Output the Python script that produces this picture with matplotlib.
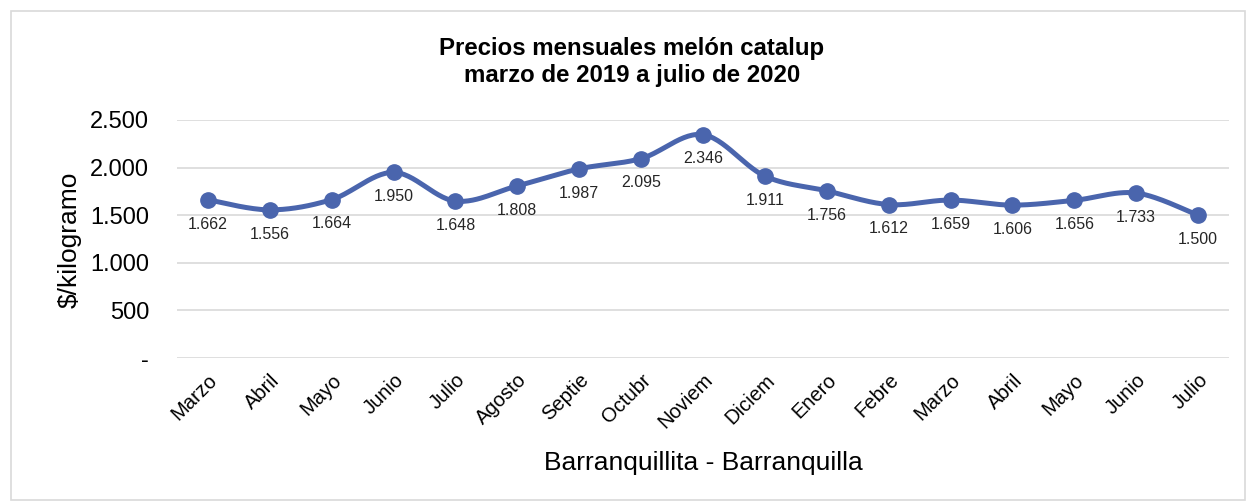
import numpy as np
import matplotlib
matplotlib.use("Agg")
import matplotlib.pyplot as plt
from matplotlib.patches import Rectangle

plt.rcParams['font.family'] = ['Liberation Sans', 'DejaVu Sans']

months = ["Marzo", "Abril", "Mayo", "Junio", "Julio", "Agosto", "Septie", "Octubr",
          "Noviem", "Diciem", "Enero", "Febre", "Marzo", "Abril", "Mayo", "Junio", "Julio"]
prices = [1662, 1556, 1664, 1950, 1648, 1808, 1987, 2095, 2346, 1911, 1756,
          1612, 1659, 1606, 1656, 1733, 1500]
yticks = [0, 500, 1000, 1500, 2000, 2500]
ytick_labels = ["-", "500", "1.000", "1.500", "2.000", "2.500"]
title = "Precios mensuales melón catalup\nmarzo de 2019 a julio de 2020"
xlabel = "Barranquillita - Barranquilla"
ylabel = "$/kilogramo"

color = "#4a65ad"

W, H = 1251, 504
fig = plt.figure(figsize=(W / 100, H / 100), dpi=100)
fig.patches.append(Rectangle((11 / W, 4 / H), 1234 / W, 489 / H, transform=fig.transFigure,
                             fill=False, edgecolor="#d9d9d9", linewidth=1.2))

ax = fig.add_axes([177 / W, 1 - 358 / H, (1229 - 177) / W, (358 - 120) / H])

x = np.arange(len(prices))
y = np.array(prices, dtype=float)

# smooth curve (cubic Bezier, Catmull-Rom style) through the points
xs, ys = [], []
n = len(x)
t = np.linspace(0, 1, 30)
for i in range(n - 1):
    p0 = np.array([x[i], y[i]])
    p3 = np.array([x[i + 1], y[i + 1]])
    pm = np.array([x[i - 1], y[i - 1]]) if i > 0 else p0
    pp = np.array([x[i + 2], y[i + 2]]) if i + 2 < n else p3
    c1 = p0 + (p3 - pm) / 6
    c2 = p3 - (pp - p0) / 6
    seg = ((1 - t)[:, None] ** 3 * p0 + 3 * (1 - t)[:, None] ** 2 * t[:, None] * c1
           + 3 * (1 - t)[:, None] * t[:, None] ** 2 * c2 + t[:, None] ** 3 * p3)
    xs.extend(seg[:, 0])
    ys.extend(seg[:, 1])

ax.plot(xs, ys, color=color, linewidth=3.6, solid_capstyle="round", zorder=3)
ax.plot(x, y, "o", color=color, markersize=11, zorder=4)

for xi, yi in zip(x, prices):
    lab = f"{yi:,}".replace(",", ".")
    ax.annotate(lab, (xi, yi), xytext=(0, -17.5), textcoords="offset points",
                ha="center", va="center", fontsize=11.5, color="#262626", zorder=5)

ax.set_xlim(-0.5, len(prices) - 0.5)
ax.set_ylim(0, 2500)
ax.set_yticks(yticks)
ax.set_yticklabels(ytick_labels, fontsize=17)
ax.set_xticks(x)
ax.set_xticklabels(months, rotation=45, ha="right", rotation_mode="anchor", fontsize=14.5)
ax.tick_params(axis="x", length=0, pad=9)
ax.tick_params(axis="y", length=0, pad=20)
ax.grid(axis="y", color="#d9d9d9", linewidth=1.2)
ax.set_axisbelow(True)
for s in ax.spines.values():
    s.set_visible(False)

ax.set_xlabel(xlabel, fontsize=19, labelpad=12)
ax.set_ylabel(ylabel, fontsize=19, labelpad=8)
ax.yaxis.set_label_coords(70 / W, 1 - 240 / H, transform=fig.transFigure)
ax.yaxis.label.set_va("center")
ax.xaxis.set_label_coords(703 / W, 1 - 463 / H, transform=fig.transFigure)
ax.xaxis.label.set_va("center")

fig.text(632 / W, 1 - 62 / H, title, ha="center", va="center", fontsize=17.3,
         fontweight="bold", linespacing=1.17)

fig.savefig("out.png", dpi=100)
